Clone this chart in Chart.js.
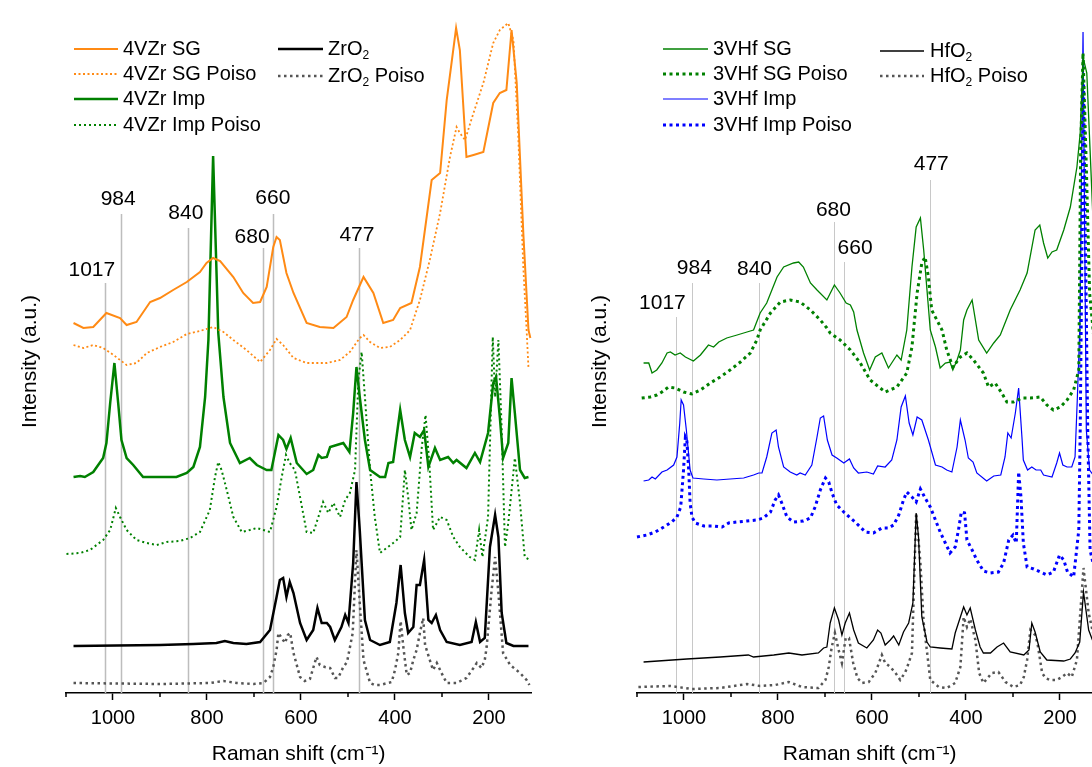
<!DOCTYPE html>
<html><head><meta charset="utf-8">
<script src="https://cdn.jsdelivr.net/npm/chart.js@4.4.0/dist/chart.umd.min.js"></script>
<style>
html,body{margin:0;padding:0;background:#fff;overflow:hidden;width:1092px;height:767px;}
#l{position:absolute;left:0;top:0;width:546px;height:767px;}
#r{position:absolute;left:560px;top:0;width:560px;height:767px;}
</style></head><body>
<div id="l"><canvas id="cl"></canvas></div>
<div id="r"><canvas id="cr"></canvas></div>
<script>
// ---------- tick labels ----------
const majorTicks = [1000, 800, 600, 400, 200];
const minorTicks = [1100, 900, 700, 500, 300];
const xTitle = 'Raman shift (cm⁻¹)';
const yTitle = 'Intensity (a.u.)';

// ---------- left panel: V/ZrO2 (wavenumber, intensity a.u.) ----------
const vzrSG = [[1084,370],[1063,365],[1042,366],[1014,380],[985,375],[971,368],[950,371],[921,391],[900,395],[872,403],[843,411],[815,421],[801,430],[787,435],[772,432],[744,416],[723,400],[702,390],[687,391],[673,406],[659,446],[652,456],[645,453],[631,420],[616,400],[588,370],[560,366],[531,365],[503,376],[489,393],[467,416],[446,400],[425,370],[404,373],[389,385],[365,390],[347,426],[322,513],[304,520],[290,593],[270,665],[262,643],[248,536],[233,538],[212,541],[191,590],[177,600],[163,603],[152,663],[141,610],[127,460],[116,363],[112,355]];
const vzrSGPoiso = [[1084,348],[1063,345],[1042,348],[1021,345],[999,338],[971,328],[950,330],[928,340],[900,346],[872,351],[843,359],[815,362],[787,366],[765,361],[744,353],[716,343],[687,331],[666,343],[652,354],[638,348],[616,335],[588,330],[545,330],[517,333],[496,341],[475,355],[467,358],[453,351],[432,345],[411,346],[389,353],[372,361],[368,363],[347,393],[326,433],[304,480],[283,536],[269,566],[262,560],[251,553],[233,580],[212,610],[191,650],[177,663],[159,670],[148,653],[138,560],[127,426],[120,363],[116,325]];
const vzrImp = [[1084,216],[1070,217],[1060,216],[1042,221],[1021,235],[1014,250],[1006,290],[997,330],[989,290],[982,253],[971,235],[957,228],[936,216],[900,216],[865,216],[843,220],[829,226],[815,246],[804,296],[797,353],[787,537],[776,360],[765,296],[751,250],[730,230],[709,235],[694,228],[673,223],[663,223],[648,258],[638,253],[631,244],[622,255],[609,230],[588,219],[574,223],[563,238],[556,235],[545,236],[538,246],[524,248],[510,250],[497,241],[489,280],[482,326],[475,296],[464,253],[453,223],[432,216],[421,216],[414,230],[404,231],[389,283],[379,253],[368,236],[358,260],[347,256],[338,263],[329,226],[315,245],[304,233],[287,236],[276,230],[269,233],[248,225],[230,240],[219,231],[202,260],[191,310],[185,316],[177,276],[170,235],[159,250],[152,315],[145,280],[134,223],[124,215],[116,216]];
const vzrImpPoiso = [[1099,139],[1070,140],[1049,143],[1021,153],[1006,163],[994,185],[985,176],[971,163],[950,153],[928,150],[907,148],[886,151],[858,152],[836,155],[815,161],[794,183],[783,216],[776,231],[769,223],[758,203],[744,176],[726,161],[709,163],[694,165],[680,163],[666,161],[652,186],[641,216],[632,238],[624,230],[613,223],[602,196],[588,161],[574,160],[563,176],[553,191],[542,180],[531,190],[517,176],[506,193],[496,200],[485,223],[478,313],[471,341],[464,296],[453,223],[443,176],[432,140],[418,145],[404,150],[389,156],[379,223],[372,196],[365,163],[354,180],[343,246],[335,278],[327,230],[319,163],[304,176],[290,173],[276,156],[262,146],[241,136],[230,133],[221,163],[214,136],[202,176],[192,356],[187,296],[180,353],[173,263],[166,146],[159,170],[145,235],[134,190],[124,136],[113,133]];
const zrO2 = [[1084,47],[900,48],[829,49],[780,50],[762,52],[744,50],[716,49],[687,51],[666,63],[652,96],[645,113],[638,115],[631,96],[624,111],[616,100],[602,70],[588,53],[574,63],[565,85],[556,70],[545,70],[538,66],[528,53],[514,66],[506,78],[499,70],[489,130],[482,211],[475,163],[464,73],[453,53],[432,48],[411,51],[397,90],[388,128],[379,80],[372,60],[361,66],[354,108],[347,108],[338,133],[329,73],[322,70],[313,78],[304,63],[290,51],[262,48],[237,51],[228,71],[219,51],[209,55],[198,146],[187,178],[180,156],[173,80],[163,50],[148,47],[116,47]];
const zrO2Poiso = [[1084,10],[900,9],[794,10],[765,12],[737,10],[701,9],[680,10],[666,16],[659,26],[652,43],[648,60],[641,55],[634,50],[628,58],[623,60],[616,40],[602,16],[592,12],[581,14],[567,36],[560,28],[549,26],[538,25],[528,15],[521,15],[510,26],[502,31],[490,60],[482,143],[475,90],[467,33],[453,10],[443,8],[432,8],[407,11],[400,23],[393,40],[388,72],[382,45],[375,18],[368,20],[361,33],[354,43],[347,60],[340,75],[336,48],[326,33],[319,23],[311,30],[301,20],[290,10],[269,10],[248,15],[233,25],[226,30],[216,25],[209,33],[205,46],[195,100],[187,136],[180,100],[170,40],[155,28],[134,20],[120,13],[114,8]];

// ---------- right panel: V/HfO2 ----------
const vhfSG = [[1086,330],[1075,330],[1068,320],[1058,323],[1047,330],[1036,340],[1029,341],[1019,338],[1008,340],[997,336],[980,332],[965,338],[948,348],[937,346],[926,351],[909,355],[887,358],[866,361],[852,363],[838,380],[824,390],[802,416],[788,426],[767,430],[756,431],[746,426],[731,410],[717,403],[696,393],[680,408],[668,400],[655,390],[646,388],[639,381],[632,363],[618,340],[605,323],[593,336],[579,340],[565,325],[547,338],[538,333],[526,363],[515,426],[506,466],[497,475],[490,443],[483,403],[476,363],[465,346],[455,325],[444,330],[434,331],[428,323],[419,333],[412,343],[405,373],[398,383],[387,393],[380,373],[373,353],[356,340],[341,350],[327,358],[306,383],[285,403],[270,420],[253,463],[243,468],[235,450],[226,435],[217,441],[207,443],[192,463],[178,486],[164,526],[157,560],[151,636],[143,620],[136,543],[125,420],[110,340]];
const vhfSGPoiso = [[1090,295],[1072,296],[1058,298],[1047,301],[1033,306],[1019,305],[1001,301],[983,299],[965,303],[944,310],[923,316],[902,323],[880,331],[859,340],[845,353],[838,363],[816,380],[795,391],[774,393],[753,391],[731,383],[710,373],[696,365],[689,360],[668,353],[646,343],[625,330],[604,313],[572,301],[547,306],[526,320],[515,346],[504,400],[494,430],[487,436],[480,416],[473,383],[451,363],[441,343],[428,326],[412,336],[398,340],[384,333],[363,320],[352,306],[338,310],[324,300],[313,291],[299,291],[281,295],[263,295],[242,296],[228,288],[214,283],[199,286],[185,293],[171,303],[160,323],[156,543],[151,640],[144,526],[137,400],[125,340]];
const vhfImp = [[1086,212],[1075,213],[1068,216],[1061,214],[1047,221],[1036,223],[1022,228],[1015,236],[1009,270],[1006,293],[1001,288],[995,263],[987,223],[981,215],[958,214],[930,213],[902,214],[873,215],[852,218],[841,220],[834,220],[824,236],[813,260],[804,263],[799,246],[788,226],[774,221],[760,218],[753,220],[742,218],[728,228],[717,256],[710,275],[703,277],[695,253],[685,238],[675,235],[660,230],[648,234],[639,225],[629,220],[611,221],[597,219],[588,227],[572,226],[558,233],[547,253],[538,286],[529,297],[521,270],[513,258],[504,276],[494,273],[480,253],[465,228],[451,226],[441,223],[430,221],[419,246],[412,273],[402,253],[395,235],[385,231],[377,220],[356,212],[341,217],[326,218],[317,236],[311,260],[304,255],[295,280],[288,305],[281,256],[278,233],[269,223],[260,226],[251,223],[241,223],[235,218],[217,216],[207,230],[201,240],[194,228],[185,226],[175,226],[168,236],[163,296],[158,363],[151,661],[144,263],[137,223],[125,215]];
const vhfImpPoiso = [[1100,156],[1079,158],[1061,161],[1043,166],[1026,171],[1015,176],[1007,186],[1001,223],[997,256],[994,253],[990,223],[987,190],[983,176],[976,170],[958,167],[937,167],[919,166],[905,170],[887,171],[866,172],[845,173],[831,175],[816,181],[806,193],[799,198],[792,190],[781,176],[767,171],[746,172],[731,175],[721,186],[710,203],[699,215],[692,211],[685,200],[675,188],[660,181],[646,175],[636,171],[625,166],[614,161],[597,160],[579,165],[565,165],[554,168],[543,178],[533,193],[526,201],[515,196],[506,191],[497,204],[487,195],[476,186],[465,173],[455,161],[444,150],[434,140],[423,146],[416,163],[410,181],[403,180],[398,153],[387,143],[377,133],[363,122],[348,120],[331,121],[320,130],[309,153],[300,158],[293,150],[288,221],[283,196],[278,150],[270,126],[256,124],[242,121],[228,118],[214,121],[201,138],[192,133],[184,121],[171,116],[160,163],[157,263],[150,610],[141,263],[136,143],[125,120]];
const hfO2 = [[1086,31],[994,34],[923,36],[863,38],[852,36],[809,38],[777,40],[749,38],[714,40],[703,45],[696,46],[689,70],[680,85],[671,73],[664,58],[657,70],[648,80],[639,63],[629,50],[611,45],[597,53],[588,63],[581,60],[572,48],[561,53],[554,57],[543,48],[533,61],[522,70],[513,90],[506,180],[501,156],[494,76],[483,51],[476,46],[455,45],[430,44],[423,60],[405,86],[398,78],[391,85],[380,63],[370,46],[363,40],[348,40],[334,46],[320,50],[306,41],[277,38],[266,43],[260,70],[253,61],[242,41],[228,33],[192,32],[178,34],[168,40],[158,51],[150,101],[139,63],[131,53],[120,45]];
const hfO2Poiso = [[1097,6],[1029,7],[983,4],[923,5],[866,9],[838,7],[806,8],[777,11],[749,6],[714,5],[699,13],[692,26],[686,45],[679,60],[672,45],[664,30],[656,55],[649,55],[640,30],[631,15],[621,10],[607,11],[593,20],[579,38],[572,30],[561,26],[550,20],[540,13],[529,21],[522,30],[515,40],[506,180],[497,130],[490,70],[476,13],[458,6],[441,5],[423,10],[412,26],[405,76],[398,66],[391,74],[380,53],[372,20],[363,10],[345,20],[331,21],[316,11],[299,6],[285,8],[277,16],[270,33],[263,63],[253,58],[248,50],[238,20],[231,15],[221,13],[207,13],[196,16],[185,20],[175,16],[164,33],[150,125],[139,80],[131,63],[120,40]];

// ---------- peak markers: position, label position (cm-1), label / line-top heights (a.u.) ----------
const peakPos = [1017, 984, 840, 680, 660, 477];
const leftLabelW = [1045, 989, 845, 704, 660, 481];
const leftLabelI = [423, 494, 480, 456, 495, 458];
const leftLineTop = [410, 479, 465, 445, 479, 445];
const rightLabelW = [1046, 978, 850, 682, 636, 474];
const rightLabelI = [390, 425, 424, 483, 445, 529];
const rightLineTop = [376, 410, 410, 471, 431, 513];

const FONT = '"Liberation Sans", Arial, Helvetica, sans-serif';
Chart.defaults.font.family = FONT;
Chart.defaults.font.size = 20;
Chart.defaults.color = '#000';

const toXY = arr => arr.map(p => ({x: p[0], y: p[1]}));

function ds(label, arr, color, width, dash) {
  return {label, data: toXY(arr), borderColor: color, borderWidth: width,
          borderDash: dash || [], pointRadius: 0, tension: 0, clip: false, fill: false};
}

function drawRich(ctx, text, x, y, size) {
  const parts = text.split('₂');
  let cx = x;
  ctx.textBaseline = 'middle';
  ctx.textAlign = 'left';
  parts.forEach((p, i) => {
    ctx.font = size + 'px ' + FONT;
    ctx.fillText(p, cx, y);
    cx += ctx.measureText(p).width;
    if (i < parts.length - 1) {
      ctx.font = Math.round(size * 0.62) + 'px ' + FONT;
      ctx.fillText('2', cx, y + size * 0.32);
      cx += ctx.measureText('2').width;
    }
  });
}

function makePlugins(cfg) {
  return [{
    id: 'peaks',
    beforeDatasetsDraw(chart) {
      const {ctx, chartArea, scales: {x, y}} = chart;
      ctx.save();
      ctx.strokeStyle = cfg.peakColor;
      ctx.lineWidth = cfg.peakWidth;
      peakPos.forEach((w, i) => {
        const px = Math.round(x.getPixelForValue(w)) + 0.5;
        ctx.beginPath();
        ctx.moveTo(px, y.getPixelForValue(cfg.lineTop[i]));
        ctx.lineTo(px, chartArea.bottom);
        ctx.stroke();
      });
      ctx.fillStyle = '#000';
      ctx.font = '21px ' + FONT;
      ctx.textAlign = 'center';
      ctx.textBaseline = 'middle';
      peakPos.forEach((w, i) => {
        ctx.fillText(String(w), x.getPixelForValue(cfg.labelW[i]), y.getPixelForValue(cfg.labelI[i]));
      });
      ctx.restore();
    },
    afterDraw(chart) {
      const {ctx, chartArea, scales: {x}} = chart;
      ctx.save();
      ctx.strokeStyle = '#000';
      ctx.lineWidth = 1.5;
      minorTicks.forEach(v => {
        const px = x.getPixelForValue(v);
        if (px < chartArea.left - 1 || px > chartArea.right + 1) return;
        ctx.beginPath();
        ctx.moveTo(px, chartArea.bottom);
        ctx.lineTo(px, chartArea.bottom + 4);
        ctx.stroke();
      });
      // legend
      cfg.legend.forEach(item => {
        const d = chart.data.datasets[item.i];
        ctx.save();
        ctx.strokeStyle = d.borderColor;
        ctx.lineWidth = d.borderWidth;
        ctx.setLineDash(d.borderDash || []);
        ctx.beginPath();
        ctx.moveTo(item.x0, item.y);
        ctx.lineTo(item.x1, item.y);
        ctx.stroke();
        ctx.restore();
        ctx.fillStyle = '#000';
        drawRich(ctx, d.label, item.tx, item.y, 20);
      });
      ctx.restore();
    }
  }];
}

function makeOptions(cfg) {
  return {
    responsive: true, maintainAspectRatio: false, animation: false,
    layout: {padding: {top: 30, right: cfg.padRight, left: 0, bottom: 0}},
    plugins: {legend: {display: false}, tooltip: {enabled: false}},
    scales: {
      x: {
        type: 'linear', reverse: true, min: 110, max: 1100,
        afterBuildTicks: s => { s.ticks = majorTicks.map(v => ({value: v})); },
        afterFit: s => { s.height = 74; },
        grid: {display: true, drawOnChartArea: false, tickLength: 7, tickColor: '#000', tickWidth: 1.5},
        border: {display: true, color: '#000', width: 1.5},
        ticks: {color: '#000', font: {size: 20}, padding: 6, maxRotation: 0, autoSkip: false,
                callback: v => String(v)},
        title: {display: true, text: xTitle, color: '#000', font: {size: 21}, padding: {top: 0, bottom: 0.5}}
      },
      y: {
        min: 0, max: 663,
        afterFit: s => { s.width = cfg.yWidth; },
        grid: {display: false}, border: {display: false}, ticks: {display: false},
        title: {display: true, text: yTitle, color: '#000', font: {size: 21}, padding: {top: cfg.yTitlePad, bottom: 0}}
      }
    }
  };
}

const DOT = [2, 3];
const GRAYDOT = [2.5, 3.5];

new Chart(document.getElementById('cl'), {
  type: 'line',
  data: {datasets: [
    ds('4VZr SG', vzrSG, '#ff8a14', 2),
    ds('4VZr SG Poiso', vzrSGPoiso, '#ff8a14', 1.8, [2, 2.5]),
    ds('4VZr Imp', vzrImp, '#008000', 2.5),
    ds('4VZr Imp Poiso', vzrImpPoiso, '#008000', 2, DOT),
    ds('ZrO₂', zrO2, '#000000', 2.5),
    ds('ZrO₂ Poiso', zrO2Poiso, '#555555', 2.5, GRAYDOT)
  ]},
  options: makeOptions({padRight: 14.7, yWidth: 66, yTitlePad: 17.4}),
  plugins: makePlugins({
    peakColor: '#bdbdbd', peakWidth: 1.5,
    labelW: leftLabelW, labelI: leftLabelI, lineTop: leftLineTop,
    legend: [
      {i: 0, x0: 74, x1: 118, tx: 123, y: 49},
      {i: 1, x0: 74, x1: 118, tx: 123, y: 74},
      {i: 2, x0: 74, x1: 118, tx: 123, y: 99},
      {i: 3, x0: 74, x1: 118, tx: 123, y: 125},
      {i: 4, x0: 278, x1: 323, tx: 328, y: 49},
      {i: 5, x0: 278, x1: 323, tx: 328, y: 76}
    ]
  })
});

new Chart(document.getElementById('cr'), {
  type: 'line',
  data: {datasets: [
    ds('3VHf SG', vhfSG, '#008000', 1.3),
    ds('3VHf SG Poiso', vhfSGPoiso, '#008000', 3, [3, 3.5]),
    ds('3VHf Imp', vhfImp, '#0000ff', 1.2),
    ds('3VHf Imp Poiso', vhfImpPoiso, '#0000ff', 3, [3, 3.5]),
    ds('HfO₂', hfO2, '#000000', 1.3),
    ds('HfO₂ Poiso', hfO2Poiso, '#555555', 2.5, GRAYDOT)
  ]},
  options: makeOptions({padRight: 17.7, yWidth: 77, yTitlePad: 27.4}),
  plugins: makePlugins({
    peakColor: '#c8c8c8', peakWidth: 1,
    labelW: rightLabelW, labelI: rightLabelI, lineTop: rightLineTop,
    legend: [
      {i: 0, x0: 103, x1: 148, tx: 153, y: 49},
      {i: 1, x0: 103, x1: 148, tx: 153, y: 74},
      {i: 2, x0: 103, x1: 148, tx: 153, y: 99},
      {i: 3, x0: 103, x1: 148, tx: 153, y: 125},
      {i: 4, x0: 320, x1: 364, tx: 370, y: 51},
      {i: 5, x0: 320, x1: 364, tx: 370, y: 76}
    ]
  })
});
</script>
</body></html>
